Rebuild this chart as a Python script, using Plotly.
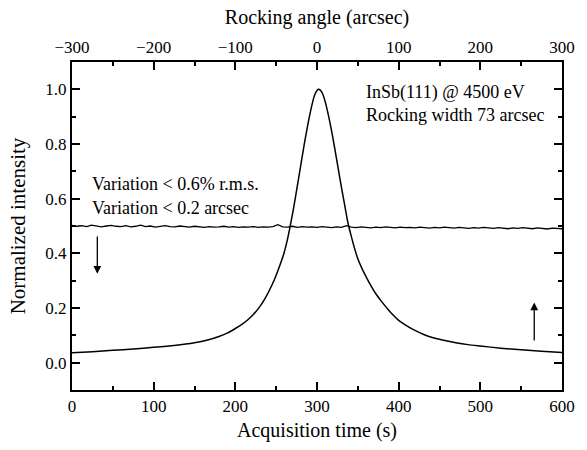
import plotly.graph_objects as go

# Rocking curve (acquisition time s, normalized intensity)
curve_t = [0, 25, 50, 75, 100, 125, 150, 165, 180, 190, 200, 208, 215, 222, 230, 237, 245, 250, 255, 259, 263, 267,
           271, 275, 280, 285, 290, 294, 297, 300, 302, 304, 307, 310, 314, 319, 324, 330, 334, 338, 342, 346, 350,
           355, 360, 366, 372, 378, 385, 392, 400, 410, 420, 430, 440, 455, 470, 485, 500, 525, 550, 575, 600]
curve_v = [0.036, 0.040, 0.045, 0.050, 0.056, 0.063, 0.073, 0.082, 0.096, 0.108, 0.125, 0.140, 0.156, 0.176, 0.205,
           0.238, 0.285, 0.320, 0.360, 0.395, 0.440, 0.497, 0.560, 0.630, 0.720, 0.810, 0.890, 0.945, 0.978, 0.996,
           1.000, 0.997, 0.983, 0.955, 0.905, 0.830, 0.745, 0.640, 0.575, 0.510, 0.462, 0.418, 0.380, 0.345, 0.315,
           0.282, 0.252, 0.228, 0.202, 0.178, 0.155, 0.135, 0.118, 0.104, 0.093, 0.082, 0.073, 0.066, 0.061, 0.053,
           0.047, 0.042, 0.037]

# Stability trace (sampled every 6 s)
flat_t = list(range(0, 601, 6))
flat_v = [0.502, 0.499, 0.501, 0.498, 0.503, 0.500, 0.497, 0.500, 0.502, 0.499,
          0.498, 0.501, 0.497, 0.499, 0.503, 0.498, 0.500, 0.496, 0.499, 0.501,
          0.498, 0.497, 0.500, 0.498, 0.496, 0.499, 0.497, 0.495, 0.498, 0.496,
          0.497, 0.499, 0.496, 0.498, 0.495, 0.497, 0.496, 0.498, 0.495, 0.497,
          0.496, 0.498, 0.505, 0.497, 0.496, 0.499, 0.495, 0.498, 0.496, 0.497,
          0.495, 0.498, 0.496, 0.494, 0.497, 0.495, 0.501, 0.496, 0.494, 0.497,
          0.495, 0.493, 0.496, 0.494, 0.497, 0.495, 0.493, 0.496, 0.494, 0.495,
          0.493, 0.496, 0.494, 0.492, 0.495, 0.493, 0.496, 0.494, 0.492, 0.495,
          0.493, 0.491, 0.494, 0.492, 0.495, 0.493, 0.491, 0.494, 0.492, 0.490,
          0.493, 0.491, 0.494, 0.492, 0.490, 0.493, 0.491, 0.489, 0.492, 0.490,
          0.490]

x_ticks = [0, 100, 200, 300, 400, 500, 600]
top_ticks = [-300, -200, -100, 0, 100, 200, 300]
y_ticks = [0.0, 0.2, 0.4, 0.6, 0.8, 1.0]

FONT = "Liberation Serif"

fig = go.Figure()
fig.add_trace(go.Scatter(x=flat_t, y=flat_v, mode="lines",
                         line=dict(color="black", width=1.3), hoverinfo="skip"))
fig.add_trace(go.Scatter(x=curve_t, y=curve_v, mode="lines", line_shape="spline",
                         line=dict(color="black", width=1.5, smoothing=0.6), hoverinfo="skip"))
fig.add_trace(go.Scatter(x=[top_ticks[0], top_ticks[-1]], y=[None, None], xaxis="x2",
                         mode="lines", showlegend=False, hoverinfo="skip"))

axis_common = dict(showline=True, linecolor="black", linewidth=2, ticks="inside",
                   tickcolor="black", tickwidth=1.5, ticklen=8, showgrid=False, zeroline=False,
                   tickfont=dict(family=FONT, size=17, color="black"))
minor_common = dict(ticks="inside", ticklen=4, tickcolor="black", tickwidth=1.5)

fig.update_layout(
    width=587, height=450,
    margin=dict(l=72, r=14, t=62, b=55),
    paper_bgcolor="white", plot_bgcolor="white",
    showlegend=False,
    font=dict(family=FONT, color="black"),
    xaxis=dict(range=[0, 600], tickvals=x_ticks, mirror=False,
               minor=dict(dtick=50, **minor_common),
               title=dict(text="Acquisition time (s)", font=dict(family=FONT, size=20), standoff=8),
               **axis_common),
    xaxis2=dict(range=[-300, 300], tickvals=top_ticks, overlaying="x", side="top",
                minor=dict(dtick=50, **minor_common),
                title=dict(text="Rocking angle (arcsec)", font=dict(family=FONT, size=20), standoff=8),
                **axis_common),
    yaxis=dict(range=[-0.1, 1.1], tickvals=y_ticks, tickformat=".1f", mirror="ticks",
               minor=dict(dtick=0.1, tick0=0, **minor_common),
               title=dict(text="Normalized intensity", font=dict(family=FONT, size=21), standoff=14),
               **axis_common),
)

ann_font = dict(family=FONT, size=18, color="black")
fig.add_annotation(x=357, y=0.99, text="InSb(111) @ 4500 eV", showarrow=False,
                   xanchor="left", yanchor="middle", font=ann_font)
fig.add_annotation(x=357, y=0.905, text="Rocking width 73 arcsec", showarrow=False,
                   xanchor="left", yanchor="middle", font=ann_font)
fig.add_annotation(x=22, y=0.652, text="Variation &lt; 0.6% r.m.s.", showarrow=False,
                   xanchor="left", yanchor="middle", font=ann_font)
fig.add_annotation(x=22, y=0.567, text="Variation &lt; 0.2 arcsec", showarrow=False,
                   xanchor="left", yanchor="middle", font=ann_font)

# arrows
fig.add_annotation(x=31, y=0.325, ax=31, ay=0.467, xref="x", yref="y", axref="x", ayref="y",
                   text="", showarrow=True, arrowhead=2, arrowsize=1.2, arrowwidth=1.3, arrowcolor="black")
fig.add_annotation(x=566, y=0.22, ax=566, ay=0.076, xref="x", yref="y", axref="x", ayref="y",
                   text="", showarrow=True, arrowhead=2, arrowsize=1.2, arrowwidth=1.3, arrowcolor="black")

fig.write_html("out.html")
